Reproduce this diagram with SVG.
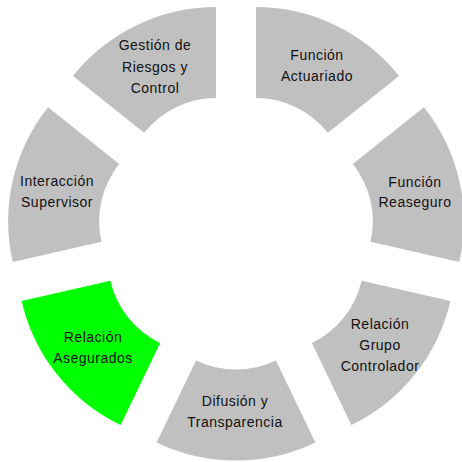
<svg xmlns="http://www.w3.org/2000/svg" width="462" height="462" viewBox="0 0 462 462">
<style>
.seg{fill:#C0C0C0;stroke:none}
.hl{fill:#00FF00}
text{font-family:"Liberation Sans",Arial,sans-serif;font-size:14px;fill:#111;text-anchor:middle;letter-spacing:0.5px}
</style>
<rect width="462" height="462" fill="#FFFFFF"/>
<g id="connectors"></g>
<g id="n-actuariado">
<path class="seg" d="M255.96,7.06 A183,183 0 0 1 399.03,75.96 L327.89,132.70 A92,92 0 0 0 255.96,98.06 Z"/>
<text x="317" y="60">Función</text>
<text x="317" y="81">Actuariado</text>
</g>
<g id="n-reaseguro">
<path class="seg" d="M423.92,107.16 A183,183 0 0 1 459.26,261.98 L370.54,241.73 A92,92 0 0 0 352.78,163.90 Z"/>
<text x="415" y="187">Función</text>
<text x="415" y="207">Reaseguro</text>
</g>
<g id="n-grupo">
<path class="seg" d="M450.37,300.90 A183,183 0 0 1 351.36,425.06 L311.88,343.07 A92,92 0 0 0 361.65,280.65 Z"/>
<text x="380" y="329">Relación</text>
<text x="380" y="350">Grupo</text>
<text x="380" y="371">Controlador</text>
</g>
<g id="n-difusion">
<path class="seg" d="M315.40,442.38 A183,183 0 0 1 156.60,442.38 L196.08,360.39 A92,92 0 0 0 275.92,360.39 Z"/>
<text x="235" y="406">Difusión y</text>
<text x="235" y="427">Transparencia</text>
</g>
<g id="n-asegurados">
<path class="seg hl" d="M120.64,425.06 A183,183 0 0 1 21.63,300.90 L110.35,280.65 A92,92 0 0 0 160.12,343.07 Z"/>
<text x="93" y="342">Relación</text>
<text x="93" y="363">Asegurados</text>
</g>
<g id="n-interaccion">
<path class="seg" d="M12.74,261.98 A183,183 0 0 1 48.08,107.16 L119.22,163.90 A92,92 0 0 0 101.46,241.73 Z"/>
<text x="57" y="186">Interacción</text>
<text x="57" y="207">Supervisor</text>
</g>
<g id="n-gestion">
<path class="seg" d="M72.97,75.96 A183,183 0 0 1 216.04,7.06 L216.04,98.06 A92,92 0 0 0 144.11,132.70 Z"/>
<text x="155" y="50">Gestión de</text>
<text x="155" y="72">Riesgos y</text>
<text x="155" y="93">Control</text>
</g>
</svg>
